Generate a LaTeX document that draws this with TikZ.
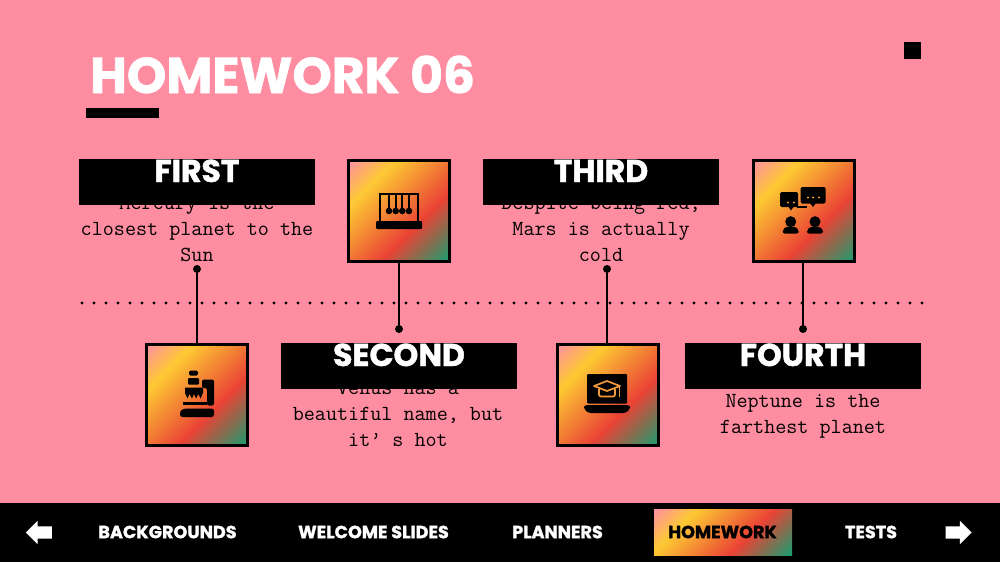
\documentclass[tikz,border=0pt]{standalone}
\usepackage{fontspec}
\usetikzlibrary{shapes.arrows}
\newfontfamily\headfont{Poppins}[BoldFeatures={FakeBold=1.4}]
\definecolor{slidepink}{HTML}{FF8DA1}
\definecolor{gradpink}{HTML}{FF8FA3}
\definecolor{gradyellow}{HTML}{FDC933}
\definecolor{gradred}{HTML}{EA4335}
\definecolor{gradgreen}{HTML}{189E70}
\definecolor{iconorange}{HTML}{F59A3C}
\pgfdeclarehorizontalshading{slidegrad}{100bp}{color(0bp)=(gradpink); color(14.6bp)=(gradpink); color(31bp)=(gradyellow); color(61.3bp)=(gradred); color(85.4bp)=(gradgreen); color(100bp)=(gradgreen)}
\begin{document}
\begin{tikzpicture}[x=1pt,y=-1pt,
    banner/.style={fill=black,text=white,inner xsep=0pt,inner ysep=0.5pt,minimum width=236pt,text height=22.5pt,text depth=22.5pt,font=\headfont\bfseries\fontsize{31.5}{32}\selectfont},
    blurb/.style={font=\ttfamily\fontsize{21.5}{26.4}\selectfont,align=center,inner sep=0pt},
    iconbox/.style={draw=black,line width=3pt,shading=slidegrad,shading angle=-45,minimum size=101pt,inner sep=0pt},
    pin/.style={fill=black,circle,inner sep=0pt,minimum size=8pt},
    navlabel/.style={text=white,inner sep=0pt,font=\headfont\bfseries\fontsize{17.6}{18}\selectfont},
    navarrow/.style={fill=white,single arrow,inner xsep=0pt,inner ysep=6pt,minimum height=26pt,single arrow head extend=5.5pt}]
  \useasboundingbox (0,0) rectangle (1000,562);
  \fill[slidepink] (0,0) rectangle (1000,562);
  \node[text=white,inner sep=0pt,anchor=base west,font=\headfont\bfseries\fontsize{50.2}{51}\selectfont] (title) at (90,93) {HOMEWORK 06};
  \node[fill=black,inner sep=0pt,minimum width=73pt,minimum height=10pt] (underline) at (122.5,113) {};
  \node[fill=black,inner sep=0pt,minimum size=17pt] (corner) at (912.5,50.5) {};
  \node[blurb] (text1) at (197,229) {Mercury is the\\closest planet to the\\Sun};
  \node[blurb] (text2) at (398,414) {Venus has a\\beautiful name, but\\it’ s hot};
  \node[blurb] (text3) at (601,229) {Despite being red,\\Mars is actually\\cold};
  \node[blurb] (text4) at (803,416.5) {Neptune is the\\farthest planet};
  \node[banner] (first) at (197,182) {FIRST};
  \node[banner] (second) at (399,366) {SECOND};
  \node[banner] (third) at (601,182) {THIRD};
  \node[banner] (fourth) at (803,366) {FOURTH};
  \coordinate (dotsleft) at (82,303);
  \coordinate (dotsright) at (922,303);
  \draw[line width=3.4pt,line cap=round,dash pattern=on 0pt off 12pt] (dotsleft) -- (dotsright);
  \node[iconbox] (box1) at (197,394.5) {};
  \node[iconbox] (box2) at (399,210.5) {};
  \node[iconbox] (box3) at (608,394.5) {};
  \node[iconbox] (box4) at (804,210.5) {};
  \node[pin] (pin1) at (197,269) {};
  \node[pin] (pin2) at (399,329) {};
  \node[pin] (pin3) at (607,269) {};
  \node[pin] (pin4) at (803,329) {};
  \foreach \p/\b/\s in {pin1/box1/north, pin2/box2/south, pin3/box3/north, pin4/box4/south} {
    \draw[line width=2pt] (\p) -- (\p |- \b.\s);
  }
  % microscope
  \fill[rounded corners=1.5pt] (189,370.5) rectangle (198,375.5);
  \fill[rounded corners=1pt] (188,378) rectangle (199,384.5);
  \fill (185,387.5) -- (203,387.5) -- (203,393) -- (200.5,398.5) -- (198.5,394) -- (196,398.5) -- (194,394) -- (192,398.5) -- (189.5,394) -- (187.5,398.5) -- (185,393) -- cycle;
  \fill (183,401.5) rectangle (207,404.5);
  \fill[rounded corners=2pt] (202,379.5) -- (214,379.5) -- (214,405.5) -- (207,405.5) -- (207,388) -- (202,388) -- cycle;
  \fill[rounded corners=2.5pt] (180,417) -- (180,411) -- (184,408.5) -- (214,408.5) -- (214,417) -- cycle;
  % cradle
  \draw[line width=2pt] (380,222) -- (380,193.5) -- (418,193.5) -- (418,222);
  \fill[rounded corners=1pt] (376,221) rectangle (422,229);
  \foreach \x in {389,395.7,402.3,409} {
    \draw[line width=2pt] (\x,193) -- (\x,210);
    \fill (\x,211) circle[radius=3.3];
  }
  % laptop
  \fill[rounded corners=1pt] (587,374) rectangle (627,403.5);
  \fill[rounded corners=3pt] (584,405) -- (630,405) -- (630,409) -- (626,413) -- (588,413) -- (584,409) -- cycle;
  \draw[iconorange,line width=1.7pt,line join=round] (594,386) -- (607,381) -- (620,386) -- (607,391) -- cycle;
  \draw[iconorange,line width=1.7pt,rounded corners=2pt] (599,389) -- (599,396.5) -- (615,396.5) -- (615,389);
  \draw[iconorange,line width=1.7pt] (619.5,386) -- (619.5,397);
  % people talking
  \fill[rounded corners=1.5pt] (780,192) rectangle (798,207);
  \fill (788,206) -- (794,206) -- (791,210.5) -- cycle;
  \fill (797,206) rectangle (807,208);
  \fill[rounded corners=1.5pt] (800.7,187) rectangle (825.7,203.5);
  \fill (810,203) -- (816,203) -- (813,207) -- cycle;
  \foreach \x in {788,794} {
    \fill[iconorange] (\x,202.5) circle[radius=1.2];
  }
  \foreach \x in {808,813,819} {
    \fill[iconorange] (\x,197.5) circle[radius=1.2];
  }
  \foreach \x in {790.7,815} {
    \fill (\x,221.7) circle[radius=5.5];
    \fill[rounded corners=2pt] (\x-8,233.5) -- (\x-8,229.5) -- (\x-4,226.5) -- (\x+4,226.5) -- (\x+8,229.5) -- (\x+8,233.5) -- cycle;
  }
  % navigation
  \fill[black] (0,503) rectangle (1000,562);
  \node[shading=slidegrad,shading angle=-45,inner sep=0pt,minimum width=138pt,minimum height=46pt] (current) at (723,532) {};
  \node[navarrow,shape border rotate=180] (back) at (42,532.5) {};
  \node[navlabel] (nav1) at (167.5,532) {BACKGROUNDS};
  \node[navlabel] (nav2) at (373.5,532) {WELCOME SLIDES};
  \node[navlabel] (nav3) at (557.5,532) {PLANNERS};
  \node[navlabel,text=black] (nav4) at (722.5,532) {HOMEWORK};
  \node[navlabel] (nav5) at (871,532) {TESTS};
  \node[navarrow] (forward) at (955.5,532.5) {};
\end{tikzpicture}
\end{document}
